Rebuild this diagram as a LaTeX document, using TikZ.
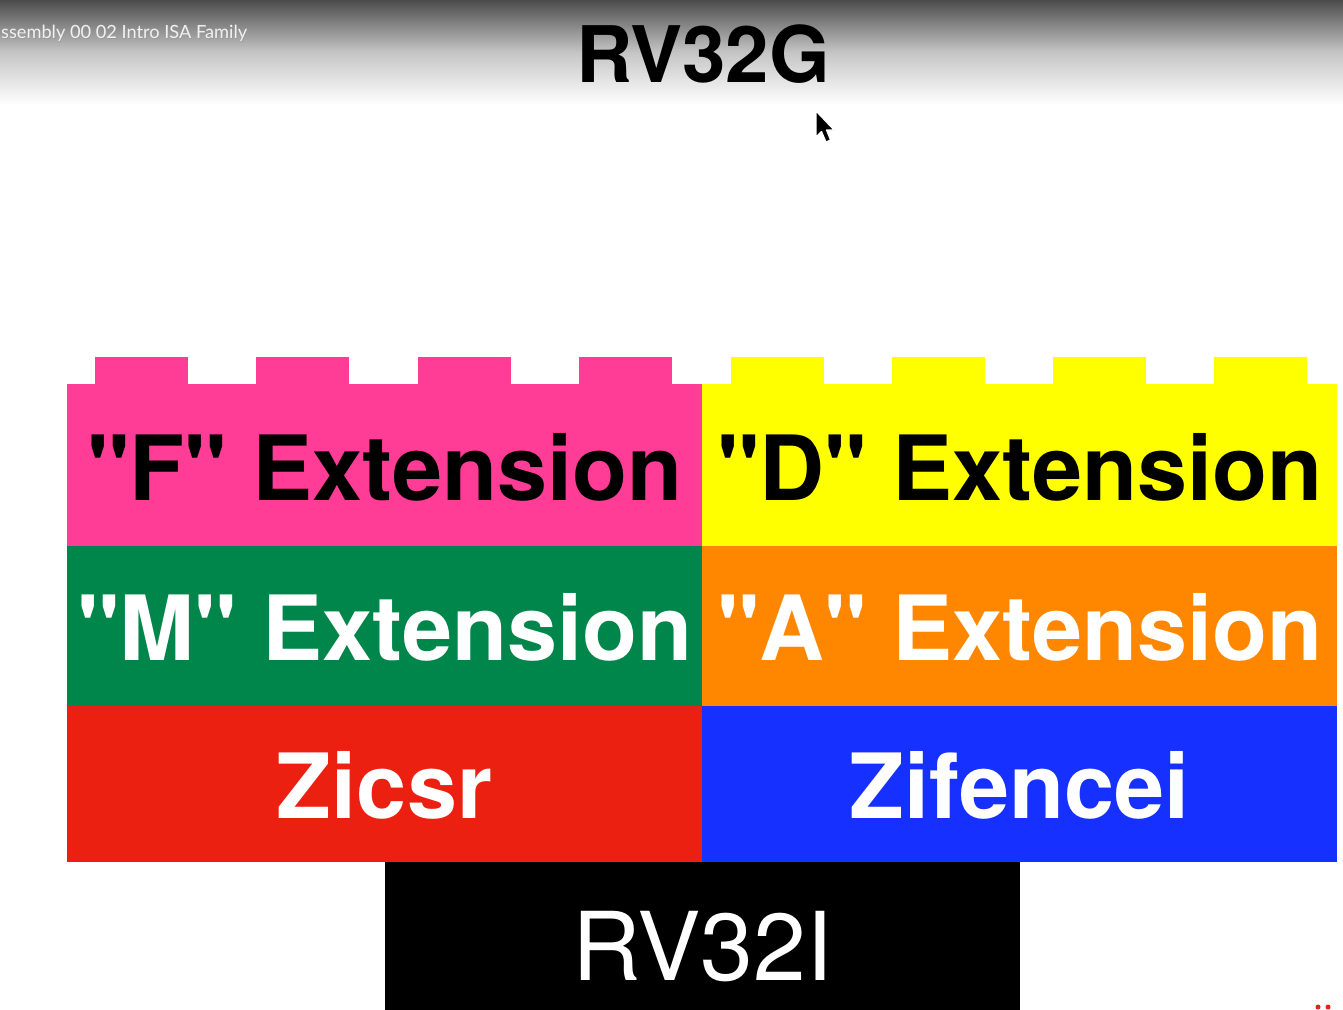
\documentclass[tikz,border=0pt]{standalone}
\usepackage{fontspec}
\setmainfont{TeX Gyre Heros}[Ligatures=TeXOff]
\newfontfamily\uifont{Lato}
\definecolor{fpink}{HTML}{FF3C96}
\definecolor{dyellow}{HTML}{FFFF00}
\definecolor{mgreen}{HTML}{00864A}
\definecolor{aorange}{HTML}{FF8700}
\definecolor{zred}{HTML}{EC2010}
\definecolor{zblue}{HTML}{1530FF}
\definecolor{barshade}{HTML}{4C4C4C}
\begin{document}
\begin{tikzpicture}[x=1pt,y=-1pt,
  brick/.style={draw=none, inner sep=0pt, minimum width=635pt},
  bigbold/.style={anchor=base, inner sep=0pt, font=\fontsize{90}{90}\bfseries\selectfont},
  basefont/.style={anchor=base, inner sep=0pt, font=\fontsize{95}{95}\selectfont},
  barfont/.style={anchor=base west, inner sep=0pt, font=\uifont\fontsize{18.2}{18.2}\selectfont}]
\useasboundingbox (0,0) rectangle (1343,1009);
\clip (0,0) rectangle (1343,1009);
\fill[white] (0,0) rectangle (1343,1009);

% video title bar fading into the page
\shade[top color=barshade, bottom color=white, middle color=gray!45] (0,0) rectangle (1343,105);
\node[barfont, text=black!40] at (1.7,39.2) {ssembly 00 02 Intro ISA Family};
\node[barfont, text=white!94!black] (bar) at (1,38.5) {ssembly 00 02 Intro ISA Family};

% heading
\node[anchor=base, inner sep=0pt, font=\fontsize{78}{78}\bfseries\selectfont] (rvg) at (703,82) {RV32G};

% bricks with studs on the top row
\foreach \sx in {95,256,418,579} \fill[fpink] (\sx,357) rectangle ++(93,28);
\foreach \sx in {731,892,1053,1214} \fill[dyellow] (\sx,357) rectangle ++(93,28);
\node[brick, fill=fpink, minimum height=162pt] (F) at (384.5,465) {};
\node[brick, fill=dyellow, minimum height=162pt] (D) at (1019.5,465) {};
\node[brick, fill=mgreen, minimum height=160pt] (M) at (384.5,626) {};
\node[brick, fill=aorange, minimum height=160pt] (A) at (1019.5,626) {};
\node[brick, fill=zred, minimum height=156pt] (Zc) at (384.5,784) {};
\node[brick, fill=zblue, minimum height=156pt] (Zf) at (1019.5,784) {};
\node[brick, fill=black, minimum height=160pt] (I) at (702.5,942) {};

% labels
\node[bigbold] (Ft) at (F.center |- 0,500) {"F" Extension};
\node[bigbold] (Dt) at (D.center |- 0,500) {"D" Extension};
\node[bigbold, text=white] (Mt) at (M.center |- 0,660) {"M" Extension};
\node[bigbold, text=white] (At) at (A.center |- 0,660) {"A" Extension};
\node[bigbold, text=white] (Zct) at (Zc.center |- 0,818) {Zicsr};
\node[bigbold, text=white] (Zft) at (Zf.center |- 0,818) {Zifencei};
\node[basefont, text=white] (It) at (I.center |- 0,980) {RV32I};

% mouse pointer
\filldraw[fill=black, draw=white, line width=1.2pt, line join=round]
  (816,111) -- (816,137) -- (821.5,131.5) -- (826,142) -- (830.5,140) -- (826.5,130) -- (834,130) -- cycle;

% red marks at the lower right edge
\fill[zred] (1318,1007) circle (2.5);
\fill[zred] (1328,1007) circle (2.5);
\end{tikzpicture}
\end{document}
